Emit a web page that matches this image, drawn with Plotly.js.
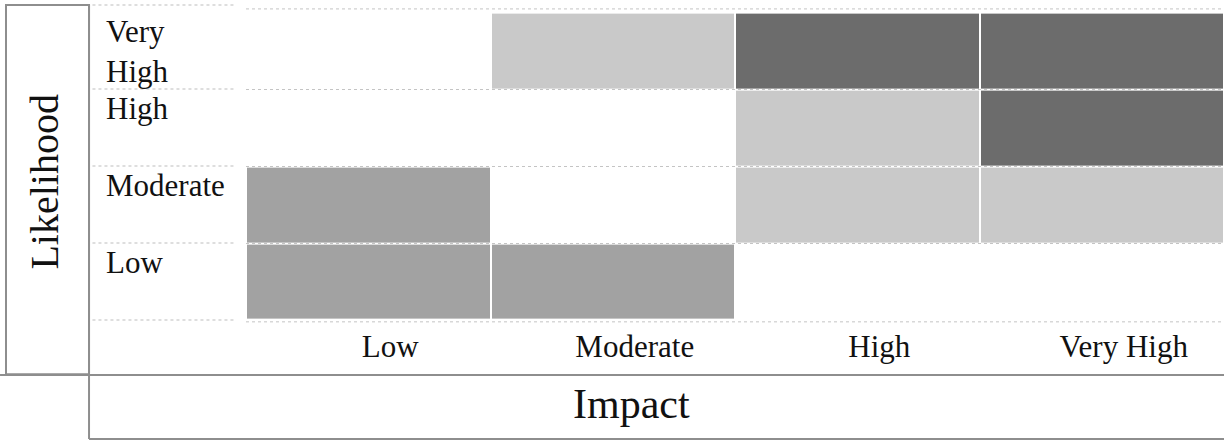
<!DOCTYPE html>
<html>
<head>
<meta charset="utf-8">
<script src="https://cdn.plot.ly/plotly-3.0.1.min.js"></script>
<style>html,body{margin:0;padding:0;background:#fff;}#chart{width:1224px;height:446px;}</style>
</head>
<body>
<div id="chart"></div>
<script>
// Impact categories (x) and likelihood categories (y, bottom to top)
var impactLevels = ['Low', 'Moderate', 'High', 'Very High'];
var likelihoodLevels = ['Low', 'Moderate', 'High', 'Very High'];
// Shade level of each cell (0 = white, 1 = light, 2 = medium, 3 = dark), rows follow likelihoodLevels
var shadeLow = [2, 2, 0, 0];
var shadeModerate = [2, 0, 1, 1];
var shadeHigh = [0, 0, 1, 3];
var shadeVeryHigh = [0, 1, 3, 3];
var rowLabels = ['Low', 'Moderate', 'High', 'Very<br>High'];
var xTitle = 'Impact';
var yTitle = 'Likelihood';

var FONT = 'Liberation Serif, Times New Roman, serif';
var LINE = '#8e8e8e';

var trace = {
  type: 'heatmap',
  x: impactLevels,
  y: likelihoodLevels,
  z: [shadeLow, shadeModerate, shadeHigh, shadeVeryHigh],
  zmin: 0, zmax: 3,
  colorscale: [[0, 'rgba(255,255,255,0)'], [1/3, '#c9c9c9'], [2/3, '#a2a2a2'], [1, '#6c6c6c']],
  showscale: false,
  xgap: 2, ygap: 2,
  hoverinfo: 'skip'
};

var annotations = likelihoodLevels.map(function (lv, i) {
  return {
    xref: 'paper', yref: 'y', x: -0.145, y: lv, xanchor: 'left', yanchor: 'top',
    yshift: 39, text: rowLabels[i], showarrow: false, align: 'left',
    font: {family: FONT, size: 31, color: '#111'}
  };
});
annotations.push({
  xref: 'paper', yref: 'paper', x: -0.207, y: 0.448, xanchor: 'center', yanchor: 'middle',
  textangle: -90, text: yTitle, showarrow: false, font: {family: FONT, size: 40, color: '#111'}
});
annotations.push({
  xref: 'paper', yref: 'paper', x: 0.394, y: -0.272, xanchor: 'center', yanchor: 'middle',
  text: xTitle, showarrow: false, font: {family: FONT, size: 42, color: '#111'}
});

var shapes = [
  {type: 'rect', xref: 'paper', yref: 'paper', x0: -0.2454, x1: -0.1605, y0: -0.176, y1: 1.0227,
   line: {color: LINE, width: 2}},
  {type: 'line', xref: 'paper', yref: 'paper', x0: -0.2515, x1: 1.0, y0: -0.1786, y1: -0.1786,
   line: {color: LINE, width: 2}},
  {type: 'line', xref: 'paper', yref: 'paper', x0: -0.1605, x1: -0.1605, y0: 1.0227, y1: -0.386,
   line: {color: LINE, width: 2}},
  {type: 'line', xref: 'paper', yref: 'paper', x0: -0.1605, x1: 1.0, y0: -0.386, y1: -0.386,
   line: {color: LINE, width: 2}}
];
[0, 0.25, 0.5, 0.75, 1.0227].forEach(function (yy) {
  shapes.push({type: 'line', xref: 'paper', yref: 'paper', x0: -0.157, x1: -0.01, y0: yy, y1: yy,
    line: {color: '#bdbdbd', width: 1, dash: 'dot'}});
});
[-0.006, 1.01].forEach(function (yy) {
  shapes.push({type: 'line', xref: 'paper', yref: 'paper', layer: 'below', x0: 0, x1: 1, y0: yy, y1: yy,
    line: {color: '#c4c4c4', width: 1, dash: 'dot'}});
});

var layout = {
  width: 1224, height: 446,
  margin: {l: 246, r: 0, t: 12, b: 126},
  paper_bgcolor: '#fff', plot_bgcolor: '#fff',
  showlegend: false,
  xaxis: {
    type: 'category', categoryorder: 'array', categoryarray: impactLevels,
    showgrid: false, zeroline: false, showline: false, ticks: '',
    ticklabelshift: 22, ticklabelstandoff: 5,
    tickfont: {family: FONT, size: 31, color: '#111'}, fixedrange: true
  },
  yaxis: {
    type: 'category', categoryorder: 'array', categoryarray: likelihoodLevels,
    showticklabels: false, ticks: '', zeroline: false, showline: false,
    showgrid: true, tickson: 'boundaries', gridcolor: '#c4c4c4', griddash: 'dot', gridwidth: 1,
    fixedrange: true
  },
  annotations: annotations,
  shapes: shapes
};

Plotly.newPlot('chart', [trace], layout, {displayModeBar: false, staticPlot: true});
</script>
</body>
</html>
